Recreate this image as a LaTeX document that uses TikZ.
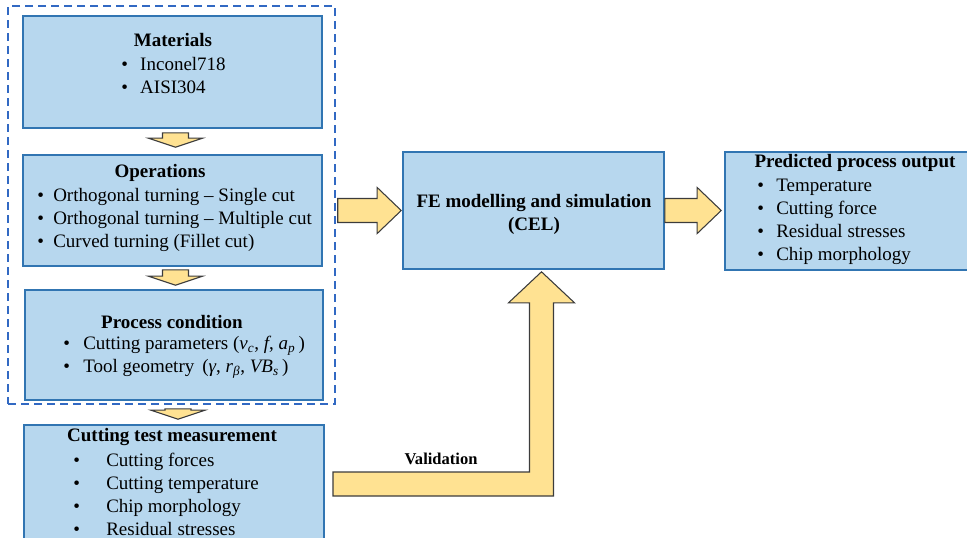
\documentclass[tikz,border=0pt]{standalone}
\usepackage{fontspec}
\setmainfont{Liberation Serif}
\usetikzlibrary{calc,fit}

\definecolor{boxfill}{RGB}{183,215,238}
\definecolor{boxline}{RGB}{49,117,178}
\definecolor{arrfill}{RGB}{255,226,146}
\definecolor{arrline}{RGB}{60,60,60}
\definecolor{frameline}{RGB}{50,105,195}

\newcommand\itm[1]{\makebox[#1][l]{\textbullet}}
% block arrows: tail coordinate, tip coordinate
\newcommand\fatdown[2]{%
  \draw[fat] ($(#1)+(-13,0)$) -- ($(#1)+(13,0)$) -- ($(#1 |- #2)+(13,-9)$)
    -- ($(#1 |- #2)+(27,-9)$) -- (#1 |- #2) -- ($(#1 |- #2)+(-27,-9)$)
    -- ($(#1 |- #2)+(-13,-9)$) -- cycle;}
\newcommand\fatright[2]{%
  \draw[fat] ($(#1)+(0,-12)$) -- ($(#2 |- #1)+(-24,-12)$) -- ($(#2 |- #1)+(-24,-23)$)
    -- (#2 |- #1) -- ($(#2 |- #1)+(-24,23)$) -- ($(#2 |- #1)+(-24,12)$)
    -- ($(#1)+(0,12)$) -- cycle;}

\begin{document}
\begin{tikzpicture}[x=0.75pt,y=-0.75pt,
        box/.style={draw=boxline,fill=boxfill,line width=1.2pt,inner sep=0pt},
        fat/.style={draw=arrline,fill=arrfill,line width=0.8pt,line join=miter},
        ttl/.style={inner sep=0pt,font=\fontsize{14.25}{17.25}\selectfont\bfseries},
        lst/.style={inner sep=0pt,anchor=west,align=left,font=\fontsize{14.25}{17.25}\selectfont}]
        \useasboundingbox (0,0) rectangle (967,537);
        \clip (0,0) rectangle (967,537);

        \node[draw=frameline,line width=1.1pt,dash pattern=on 6pt off 3.75pt,inner sep=0pt,
              fit={(8,6) (335,404)}] (frame) {};

        \node[box,fit={(23,16) (322,128)}] (mat) {};
        \node[box,fit={(23,155) (322,266)}] (ops) {};
        \node[box,fit={(25,290) (323,400)}] (proc) {};
        \node[box,fit={(24,425) (324,560)}] (cut) {};
        \node[box,fit={(403,152) (664,269)}] (fe) {};
        \node[box,fit={(725,152) (980,270)}] (pred) {};

        \node[ttl] (mat-t) at (173,40) {Materials};
        \node[lst] (mat-l) at (121,75) {\itm{14.25pt}Inconel718\\\itm{14.25pt}AISI304};
        \node[ttl] (ops-t) at (160,173) {Operations};
        \node[lst] (ops-l) at (37,219.5) {\itm{12pt}Orthogonal turning -- Single cut\\
            \itm{12pt}Orthogonal turning -- Multiple cut\\\itm{12pt}Curved turning (Fillet cut)};
        \node[ttl] (proc-t) at (172,322) {Process condition};
        \node[lst] (proc-l) at (63,357.5) {\itm{15pt}Cutting parameters (\textit{v}\textsubscript{\textit{c}}, \textit{f}, \textit{a}\textsubscript{\textit{p}}\,)\\
            \itm{15pt}Tool geometry \,(\textit{γ}, \textit{r}\textsubscript{\textit{β}}, \textit{VB}\textsubscript{\textit{s}}\,)};
        \node[ttl] (cut-t) at (172,437) {Cutting test measurement};
        \node[lst] (cut-l) at (73,494.5) {\itm{24.75pt}Cutting forces\\\itm{24.75pt}Cutting temperature\\
            \itm{24.75pt}Chip morphology\\\itm{24.75pt}Residual stresses};
        \node[ttl,align=center] (fe-t) at (534,214) {FE modelling and simulation\\(CEL)};
        \node[ttl] (pred-t) at (855,163) {Predicted process output};
        \node[lst] (pred-l) at (757,222) {\itm{14.25pt}Temperature\\\itm{14.25pt}Cutting force\\
            \itm{14.25pt}Residual stresses\\\itm{14.25pt}Chip morphology};

        \coordinate (a1s) at ($(mat.south)+(3,4)$);
        \coordinate (a1e) at ($(ops.north)+(3,-7)$);
        \coordinate (a2s) at ($(ops.south)+(3,3)$);
        \coordinate (a2e) at ($(proc.north)+(1,-4)$);
        \coordinate (a3s) at ($(proc.south)+(4,8)$);
        \coordinate (a3e) at ($(cut.north)+(4,-5)$);
        \coordinate (a4s) at ($(frame.east |- fe.west)+(2,0)$);
        \coordinate (a4e) at ($(fe.west)+(-1,0)$);
        \coordinate (a5s) at (fe.east);
        \coordinate (a5e) at ($(pred.west)+(-3,0)$);
        \fatdown{a1s}{a1e}
        \fatdown{a2s}{a2e}
        \fatdown{a3s}{a3e}
        \fatright{a4s}{a4e}
        \fatright{a5s}{a5e}

        % validation arrow
        \coordinate (vs) at (333,484);
        \coordinate (vt) at ($(fe.south)+(8,2)$);
        \draw[fat] ($(vs)+(0,-12)$) -- ($(vt |- vs)+(-12,-12)$) -- ($(vt)+(-12,31)$)
            -- ($(vt)+(-33,31)$) -- (vt) -- ($(vt)+(33,31)$) -- ($(vt)+(12,31)$)
            -- ($(vt |- vs)+(12,12)$) -- ($(vs)+(0,12)$) -- cycle;
        \node[ttl,font=\fontsize{12.4}{14}\selectfont\bfseries] (val) at (441,459) {Validation};
\end{tikzpicture}
\end{document}
